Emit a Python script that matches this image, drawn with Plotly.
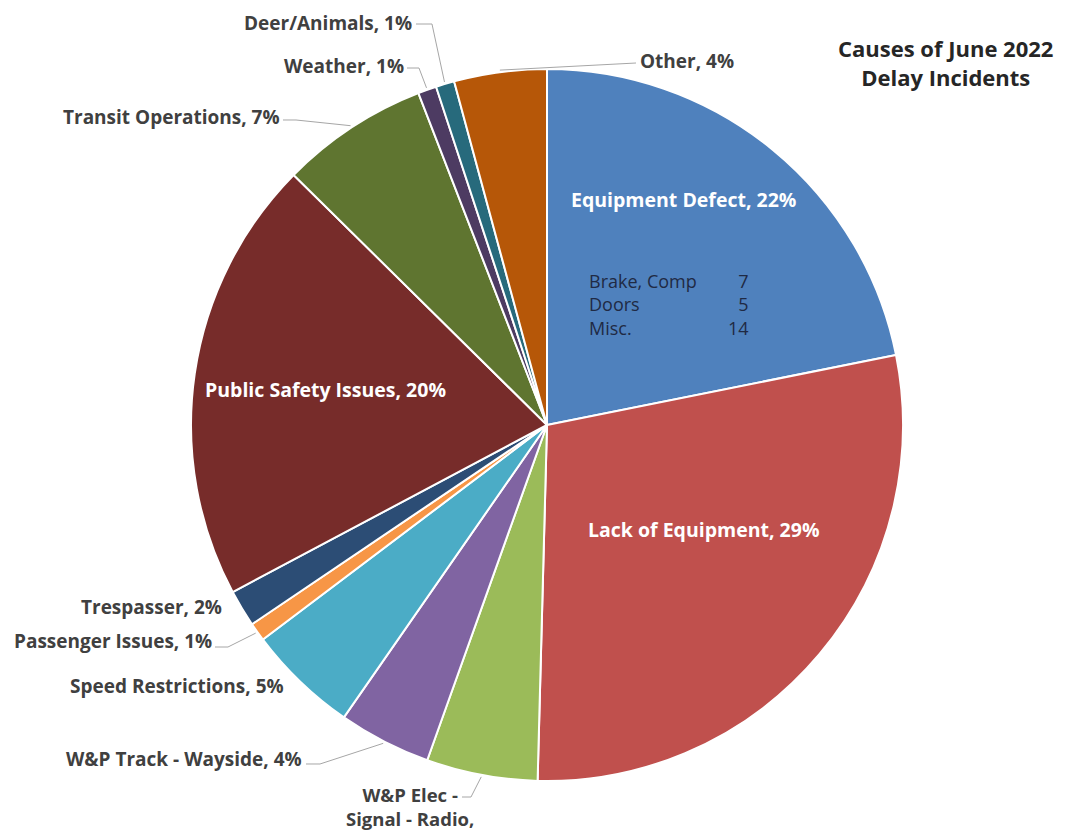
import math
import plotly.graph_objects as go

# ---------------- data ----------------
categories = ["Equipment Defect", "Lack of Equipment", "W&P Elec - Signal - Radio",
              "W&P Track - Wayside", "Speed Restrictions", "Passenger Issues",
              "Trespasser", "Public Safety Issues", "Transit Operations",
              "Weather", "Deer/Animals", "Other"]
incidents = [26, 34, 6, 5, 6, 1, 2, 24, 8, 1, 1, 5]
colors = ["#4F81BD", "#C0504D", "#9BBB59", "#8064A2", "#4BACC6", "#F79646",
          "#2C4D75", "#772C2A", "#5F7530", "#4D3B62", "#276A7C", "#B65708"]
defect_items = ["Brake, Comp", "Doors", "Misc."]
defect_counts = [7, 5, 14]
title_text = "Causes of June 2022<br>Delay Incidents"

# ---------------- layout geometry (pixels) ----------------
W, H = 1068, 833
OFF = 8  # page body margin
CX, CY, R = 547, 425, 356
FONT = "Open Sans"


def px(x):
    return (x - OFF) / W


def py(y):
    return 1 - (y - OFF) / H


total = sum(incidents)
pcts = [round(v / total * 100) for v in incidents]
labels_txt = [f"{c}, {p}%" for c, p in zip(categories, pcts)]

# mid angles (clockwise from 12 o'clock) computed from data
mids = []
cum = 0
for v in incidents:
    mids.append((cum + v / 2) / total * 2 * math.pi)
    cum += v


def edge(i, extra=2):
    a = mids[i]
    return CX + (R + extra) * math.sin(a), CY - (R + extra) * math.cos(a)


fig = go.Figure(go.Pie(
    labels=categories, values=incidents, sort=False, direction="clockwise",
    rotation=0, marker=dict(colors=colors, line=dict(color="white", width=2)),
    textinfo="none", hoverinfo="label+value+percent", showlegend=False,
    domain=dict(x=[px(CX - R), px(CX + R)], y=[py(CY + R), py(CY - R)]),
))

annotations = []
shapes = []

# inside labels
inside = {0: (683, 199), 1: (703, 529), 7: (325, 389)}
for i, (x, y) in inside.items():
    annotations.append(dict(x=px(x), y=py(y), xref="paper", yref="paper",
                            text=f"<b>{labels_txt[i]}</b>", showarrow=False,
                            xanchor="center", yanchor="middle",
                            font=dict(family=FONT, size=19.5, color="white")))

# outside labels: index -> (text x, text y, anchor, leader path points)
outside = {
    10: (413, 23, "right", [(416, 24), (432, 24)]),
    9: (405, 66, "right", [(407, 68), (419, 68)]),
    11: (639, 61, "left", [(636, 63)]),
    8: (281, 117, "right", [(283, 120), (296, 120)]),
    6: (223, 607, "right", None),
    5: (213, 641, "right", [(215, 647), (228, 647)]),
    4: (285, 686, "right", None),
    3: (303, 759, "right", [(306, 764), (320, 764)]),
}
for i, (x, y, anc, pts) in outside.items():
    annotations.append(dict(x=px(x), y=py(y), xref="paper", yref="paper",
                            text=f"<b>{labels_txt[i]}</b>", showarrow=False,
                            xanchor=anc, yanchor="middle", borderpad=0,
                            font=dict(family=FONT, size=19, color="#404040")))
    if pts:
        tip = edge(i)
        allp = pts + [tip]
        path = "M " + " L ".join(f"{px(a):.5f},{py(b):.5f}" for a, b in allp)
        shapes.append(dict(type="path", xref="paper", yref="paper", path=path,
                           line=dict(color="#A6A6A6", width=1)))

# W&P Elec label (wrapped; the percentage line falls below the visible area)
elec_txt = "W&P Elec -<br>Signal - Radio,"
annotations.append(dict(x=px(410), y=py(806), xref="paper", yref="paper",
                        text=f"<b>{elec_txt}</b>", showarrow=False,
                        xanchor="center", yanchor="middle", align="center",
                        font=dict(family=FONT, size=18.5, color="#404040")))
tip = edge(2)
elec_pts = [(462, 797), (471, 797), tip]
shapes.append(dict(type="path", xref="paper", yref="paper",
                   path="M " + " L ".join(f"{px(a):.5f},{py(b):.5f}" for a, b in elec_pts),
                   line=dict(color="#A6A6A6", width=1)))

# title
annotations.append(dict(x=px(945), y=py(63), xref="paper", yref="paper",
                        text=f"<b>{title_text}</b>", showarrow=False,
                        xanchor="center", yanchor="middle", align="center",
                        font=dict(family=FONT, size=22, color="#262626")))

# equipment defect breakdown
annotations.append(dict(x=px(587), y=py(305), xref="paper", yref="paper",
                        text="<br>".join(defect_items), showarrow=False,
                        xanchor="left", yanchor="middle", align="left",
                        font=dict(family=FONT, size=18, color="#1F2A44")))
annotations.append(dict(x=px(751), y=py(305), xref="paper", yref="paper",
                        text="<br>".join(str(c) for c in defect_counts), showarrow=False,
                        xanchor="right", yanchor="middle", align="right",
                        font=dict(family=FONT, size=18, color="#1F2A44")))

fig.update_layout(width=W, height=H, margin=dict(l=0, r=0, t=0, b=0),
                  paper_bgcolor="white", plot_bgcolor="white",
                  annotations=annotations, shapes=shapes,
                  font=dict(family=FONT))

fig.write_html("out.html")
